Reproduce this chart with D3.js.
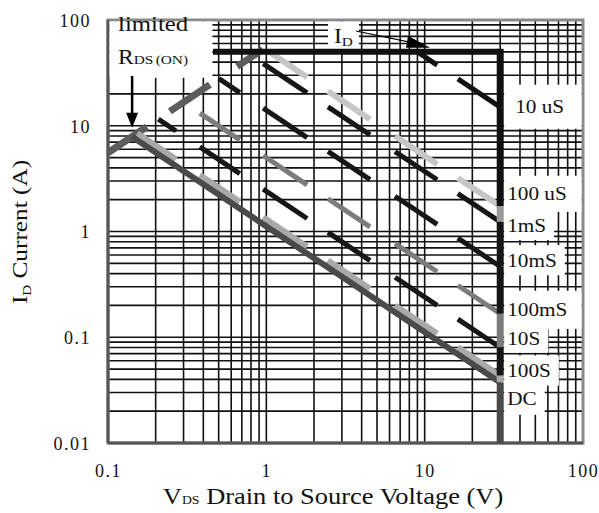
<!DOCTYPE html>
<html>
<head>
<meta charset="utf-8">
<script src="https://cdn.jsdelivr.net/npm/d3@7"></script>
<style>
  body { margin: 0; background: #fff; }
  text { font-family: "Liberation Serif", "Times New Roman", serif; fill: #111; }
</style>
</head>
<body>
<svg id="chart" width="599" height="513"></svg>
<script>
// ticks
var xTicks = [0.1, 1, 10, 100];
var yTicks = [0.01, 0.1, 1, 10, 100];

var curveNames = ["10 uS", "100 uS", "1mS", "10mS", "100mS", "10S", "100S", "DC"];
var curvePower = [450, 52, 37, 14, 5, 2.4, 1.3, 1.12];
var labelCurrent = [15, 2.25, 1.12, 0.53, 0.18, 0.096, 0.048, 0.026];

// limits
var rdsOn = 0.018;   // ohm
var idMax = 50;      // A
var vdsMax = 30;     // V

// dash pattern of the scanned lines, in volts
var dashBands = [[0.148, 0.269], [0.38, 0.68], [0.955, 1.81], [2.45, 4.52], [6.5, 12], [16.2, 30]];
var rdsBands = [[0.1, 0.176], [0.246, 0.44], [0.654, 0.95]];

var curveStyle = {
  "10 uS":  { color: "#111",    w: 5 },
  "100 uS": { color: "#c6c6c6", w: 6 },
  "1mS":    { color: "#161616", w: 5 },
  "10mS":   { color: "#161616", w: 5 },
  "100mS":  { color: "#7c7c7c", w: 5 },
  "10S":    { color: "#161616", w: 5 },
  "100S":   { color: "#a9a9a9", w: 6 },
  "DC":     { color: "#4a4a4a", w: 6 }
};
// white patch round each label: [top/bottom pad, runs to frame?]
var labelPatch = [[12, true], [8, true], [4, false], [5, false], [9, true], [4, false], [5, false], [6, false]];

var svg = d3.select("#chart");
var stretch = 1.18; // the scan's glyphs are wide

var x = d3.scaleLog().domain([0.1, 100]).range([108, 583]);
var y = d3.scaleLog().domain([0.01, 100]).range([443, 20]);

function label(g, px, py, str, size, anchor) {
  return g.append("text")
    .attr("transform", "translate(" + px + "," + py + ") scale(" + stretch + ",1)")
    .attr("text-anchor", anchor || "start")
    .style("font-size", size + "px")
    .text(str);
}

// grid, 1..9 in every decade
var minorX = [], minorY = [];
for (var d = -1; d < 2; d++) for (var k = 1; k < 10; k++) minorX.push(k * Math.pow(10, d));
for (var d2 = -2; d2 < 2; d2++) for (var k2 = 1; k2 < 10; k2++) minorY.push(k2 * Math.pow(10, d2));

var grid = svg.append("g");
grid.selectAll(".vx").data(minorX.filter(function(v) { return v > 0.1; })).enter().append("line")
  .attr("x1", function(v) { return x(v); }).attr("x2", function(v) { return x(v); })
  .attr("y1", y(100)).attr("y2", y(0.01))
  .attr("stroke", "#111").attr("stroke-width", 1.6);
grid.selectAll(".hy").data(minorY.filter(function(v) { return v > 0.01; })).enter().append("line")
  .attr("y1", function(v) { return y(v); }).attr("y2", function(v) { return y(v); })
  .attr("x1", x(0.1)).attr("x2", x(100))
  .attr("stroke", "#111").attr("stroke-width", 1.6);

// frame
svg.append("rect")
  .attr("x", x(0.1)).attr("y", y(100))
  .attr("width", x(100) - x(0.1)).attr("height", y(0.01) - y(100))
  .attr("fill", "none").attr("stroke", "#8a8a8a").attr("stroke-width", 3);
svg.append("line").attr("x1", x(0.1)).attr("x2", x(0.1)).attr("y1", y(100)).attr("y2", y(0.01))
  .attr("stroke", "#555").attr("stroke-width", 3);
svg.append("line").attr("x1", x(0.1)).attr("x2", x(100)).attr("y1", y(0.01)).attr("y2", y(0.01))
  .attr("stroke", "#555").attr("stroke-width", 3);

// axes (tick text only, the grid stands in for tick marks)
var xAxis = d3.axisBottom(x).tickValues(xTicks).tickSize(0).tickFormat(d3.format("~g"));
var gx = svg.append("g").attr("transform", "translate(0," + (y(0.01) + 15) + ")").call(xAxis);
var yAxis = d3.axisLeft(y).tickValues(yTicks).tickSize(0).tickFormat(d3.format("~g"));
var gy = svg.append("g").attr("transform", "translate(" + (x(0.1) - 14) + ",0)").call(yAxis);
[gx, gy].forEach(function(g) {
  g.select(".domain").remove();
  g.selectAll("text")
    .style("font-family", "Liberation Serif").style("font-size", "18px").attr("fill", "#111")
    .attr("letter-spacing", "1.5px");
});
gx.selectAll("text").attr("dy", "0.9em");
gy.selectAll("text").attr("dy", "0.35em");

// label layer and white patches under labels
var boxes = svg.append("g");
var notes = svg.append("g");

label(notes, 118, 31, "limited", 21);
var rds = notes.append("text")
  .attr("transform", "translate(118,64) scale(" + stretch + ",1)").style("font-size", "20px");
rds.append("tspan").text("R");
rds.append("tspan").style("font-size", "13px").text("DS");
rds.append("tspan").style("font-size", "13px").attr("dx", 2).text("(ON)");

var idl = notes.append("text")
  .attr("transform", "translate(334,43) scale(" + stretch + ",1)").style("font-size", "20px");
idl.append("tspan").text("I");
idl.append("tspan").style("font-size", "13px").attr("dy", 3).text("D");

var curveLabels = curveNames.map(function(n, i) {
  return label(notes, x(vdsMax) + (i === 0 ? 15 : 7), y(labelCurrent[i]) + 6, n, 18);
});

function pad(el, l, t, r, b, toRight) {
  var bb = el.node().getBBox();
  var m = el.node().getCTM();
  var x0 = bb.x * m.a + m.e, x1 = (bb.x + bb.width) * m.a + m.e;
  var y0 = bb.y + m.f, y1 = bb.y + bb.height + m.f;
  boxes.append("rect")
    .attr("x", x0 - l).attr("y", y0 - t)
    .attr("width", (toRight ? x(100) - 1.5 : x1 + r) - (x0 - l))
    .attr("height", y1 - y0 + t + b)
    .attr("fill", "#fff");
}
// the patch over "limited RDS(ON)" runs from the frame edge
boxes.append("rect").attr("x", x(0.1) + 1.5).attr("y", y(100) + 1.5)
  .attr("width", x(0.46) - x(0.1) - 2).attr("height", y(30) - y(100) + 1).attr("fill", "#fff");
pad(idl, 6, 4, 6, 2, false);
curveLabels.forEach(function(t, i) {
  var pp = labelPatch[i];
  pad(t, t.node().getCTM().e - x(vdsMax) - 4, pp[0], 8, pp[0], pp[1]);
});

// curves
var lines = svg.insert("g", function() { return notes.node(); });

function seg(v1, i1, v2, i2, st) {
  lines.append("line")
    .attr("x1", x(v1)).attr("y1", y(i1)).attr("x2", x(v2)).attr("y2", y(i2))
    .attr("stroke", st.color).attr("stroke-width", st.w).attr("stroke-linecap", "butt");
}

// RDS(on) limited, dashed dark grey
rdsBands.forEach(function(b) {
  seg(b[0], b[0] / rdsOn, b[1], b[1] / rdsOn, { color: "#5c5c5c", w: 7 });
});

curveNames.forEach(function(n, i) {
  var p = curvePower[i], st = curveStyle[n];
  var vStart = Math.max(Math.sqrt(p * rdsOn), p / idMax);
  if (n === "DC") {
    seg(vStart, p / vStart, vdsMax, p / vdsMax, st);
  } else {
    dashBands.forEach(function(b) {
      var a = Math.max(b[0], vStart), c = Math.min(b[1], vdsMax);
      if (c > a) seg(a, p / a, c, p / c, st);
    });
  }
});

// ID limit and VDS limit
seg(0.46, idMax, vdsMax, idMax, { color: "#111", w: 6 });
lines.append("line").attr("x1", x(vdsMax)).attr("x2", x(vdsMax))
  .attr("y1", y(idMax) - 3).attr("y2", y(curvePower[0] / vdsMax))
  .attr("stroke", "#111").attr("stroke-width", 7);
curveNames.forEach(function(n, i) {
  var lo = i < curveNames.length - 1 ? curvePower[i + 1] / vdsMax : 0.01;
  lines.append("line").attr("x1", x(vdsMax)).attr("x2", x(vdsMax))
    .attr("y1", y(curvePower[i] / vdsMax)).attr("y2", y(lo))
    .attr("stroke", curveStyle[n].color === "#c6c6c6" ? "#9a9a9a" : curveStyle[n].color)
    .attr("stroke-width", 7);
});

// arrows
var vKnee = Math.sqrt(curvePower[7] * rdsOn);
var ax = x(vKnee), tip = y(curvePower[7] / vKnee) - 9;
notes.append("line").attr("x1", ax).attr("x2", ax).attr("y1", 76).attr("y2", tip - 12)
  .attr("stroke", "#000").attr("stroke-width", 2.5);
notes.append("path")
  .attr("d", "M" + (ax - 6) + "," + (tip - 15) + "L" + (ax + 6) + "," + (tip - 15) + "L" + ax + "," + tip + "Z")
  .attr("fill", "#000");

var tx = x(10.5), ty = y(idMax) - 5;
notes.append("line").attr("x1", 356).attr("y1", 31).attr("x2", tx - 10).attr("y2", ty - 3)
  .attr("stroke", "#000").attr("stroke-width", 1.2);
notes.append("path")
  .attr("d", "M" + (tx - 20) + "," + (ty - 11) + "L" + (tx + 2) + "," + (ty + 1) + "L" + (tx - 22) + "," + (ty + 1) + "Z")
  .attr("fill", "#000");

// axis titles
var xt = svg.append("text")
  .attr("transform", "translate(333,504) scale(1.15,1)").attr("text-anchor", "middle")
  .style("font-size", "23px");
xt.append("tspan").text("V");
xt.append("tspan").style("font-size", "12px").text("DS");
xt.append("tspan").text(" Drain to Source Voltage (V)");

var yt = svg.append("text")
  .attr("transform", "translate(27,232) rotate(-90) scale(1.15,1)").attr("text-anchor", "middle")
  .style("font-size", "22px");
yt.append("tspan").text("I");
yt.append("tspan").style("font-size", "13px").attr("dy", 4).text("D");
yt.append("tspan").attr("dy", -4).text(" Current (A)");
</script>
</body>
</html>
